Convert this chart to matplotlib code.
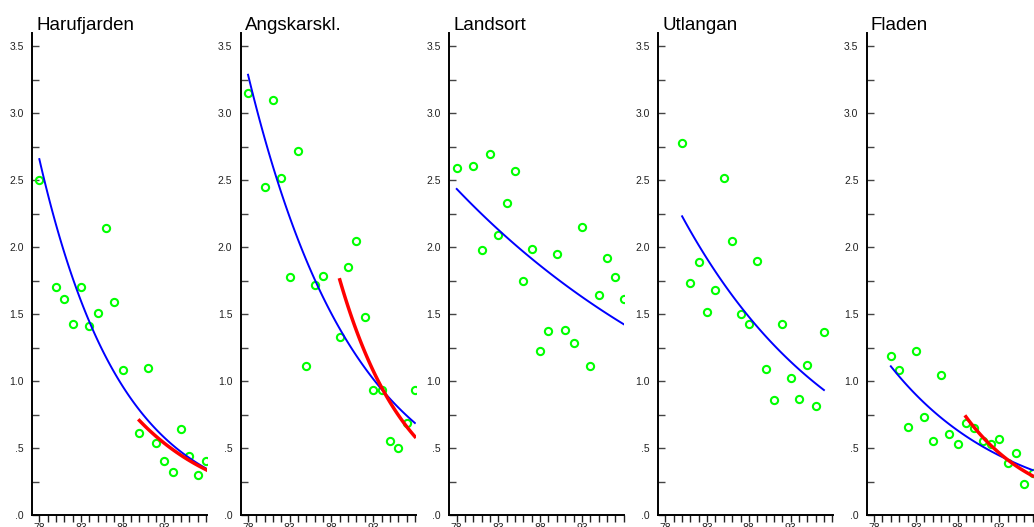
import matplotlib
matplotlib.use("Agg")
import matplotlib.pyplot as plt
import numpy as np
from matplotlib.ticker import FixedLocator, MultipleLocator, FuncFormatter

plt.rcParams['font.family'] = ['Liberation Sans', 'DejaVu Sans']

# station names and yearly values
stations = ['Harufjarden', 'Angskarskl.', 'Landsort', 'Utlangan', 'Fladen']

haru_years = [78, 80, 81, 82, 83, 84, 85, 86, 87, 88, 90, 91, 92, 93, 94, 95, 96, 97, 98]
haru_vals = [2.50, 1.70, 1.61, 1.43, 1.70, 1.41, 1.51, 2.14, 1.59, 1.08,
             0.61, 1.10, 0.54, 0.40, 0.32, 0.645, 0.44, 0.30, 0.40]

angs_years = [78, 80, 81, 82, 83, 84, 85, 86, 87, 89, 90, 91, 92, 93, 94, 95, 96, 97, 98]
angs_vals = [3.15, 2.45, 3.10, 2.52, 1.78, 2.715, 1.11, 1.72, 1.785, 1.33,
             1.85, 2.05, 1.48, 0.935, 0.93, 0.553, 0.50, 0.69, 0.93]

land_years = [78, 80, 81, 82, 83, 84, 85, 86, 87, 88, 89, 90, 91, 92, 93, 94, 95, 96, 97, 98]
land_vals = [2.59, 2.61, 1.98, 2.70, 2.09, 2.33, 2.566, 1.744, 1.986, 1.228,
             1.378, 1.95, 1.383, 1.288, 2.152, 1.116, 1.64, 1.92, 1.774, 1.617]

utla_years = [80, 81, 82, 83, 84, 85, 86, 87, 88, 89, 90, 91, 92, 93, 94, 95, 96, 97]
utla_vals = [2.78, 1.736, 1.893, 1.517, 1.68, 2.52, 2.05, 1.50, 1.427, 1.898,
             1.094, 0.86, 1.43, 1.026, 0.87, 1.121, 0.817, 1.37]

flad_years = [80, 81, 82, 83, 84, 85, 86, 87, 88, 89, 90, 91, 92, 93, 94, 95, 96, 97]
flad_vals = [1.19, 1.086, 0.66, 1.223, 0.732, 0.55, 1.044, 0.605, 0.53, 0.685,
             0.652, 0.555, 0.53, 0.57, 0.386, 0.466, 0.234, 0.31]

all_years = [haru_years, angs_years, land_years, utla_years, flad_years]
all_vals = [haru_vals, angs_vals, land_vals, utla_vals, flad_vals]
show_recent = [True, True, False, False, True]   # red trend for the late years
recent_from = 89

x_ticks = list(range(78, 99))
x_labels = [78, 83, 88, 93]
y_labels = ['.0', '.5', '1.0', '1.5', '2.0', '2.5', '3.0', '3.5']


def exp_fit(yrs, vals):
    # log-linear regression, drawn between first and last year
    yrs = np.asarray(yrs, float)
    k, c = np.polyfit(yrs, np.log(vals), 1)
    xx = np.linspace(yrs.min(), yrs.max(), 100)
    return xx, np.exp(c + k * xx)


fig = plt.figure(figsize=(10.34, 5.27), dpi=100)
W, H = 1034.0, 527.0
for i, name in enumerate(stations):
    ax = fig.add_axes([(32 + i * 208.7) / W, 12 / H, 175 / W, 482 / H])
    yrs = np.array(all_years[i])
    vals = np.array(all_vals[i])

    ax.plot(yrs, vals, 'o', mfc='none', mec='#00ff00', ms=5.2, mew=1.5, zorder=3)
    xx, yy = exp_fit(yrs, vals)
    ax.plot(xx, yy, color='#0000ff', lw=1.4, zorder=4)
    if show_recent[i]:
        m = yrs >= recent_from
        xx, yy = exp_fit(yrs[m], vals[m])
        ax.plot(xx, yy, color='#ff0000', lw=2.5, zorder=5)

    ax.set_xlim(77.12, 98.1)
    ax.set_ylim(0, 3.6)
    for s in ['top', 'right']:
        ax.spines[s].set_visible(False)
    for s in ['left', 'bottom']:
        ax.spines[s].set_linewidth(1.4)

    ax.yaxis.set_major_locator(MultipleLocator(0.5))
    ax.yaxis.set_minor_locator(MultipleLocator(0.25))
    ax.yaxis.set_major_formatter(FuncFormatter(lambda v, p: y_labels[int(round(v / 0.5))] if 0 <= round(v / 0.5) < len(y_labels) else ''))
    ax.tick_params(axis='y', which='both', direction='in', length=5, width=1,
                   color='#444444', labelsize=7.5, pad=6, labelcolor='#222222')

    ax.xaxis.set_major_locator(FixedLocator(x_labels))
    ax.xaxis.set_minor_locator(FixedLocator(x_ticks))
    ax.tick_params(axis='x', which='both', direction='out', length=5, width=1,
                   color='#222222', labelsize=7.5, pad=1, labelcolor='#222222')

    ax.text(4 / 175, 1.006, name, transform=ax.transAxes, fontsize=13.5,
            ha='left', va='baseline', color='black')

fig.savefig('out.png', dpi=100)
